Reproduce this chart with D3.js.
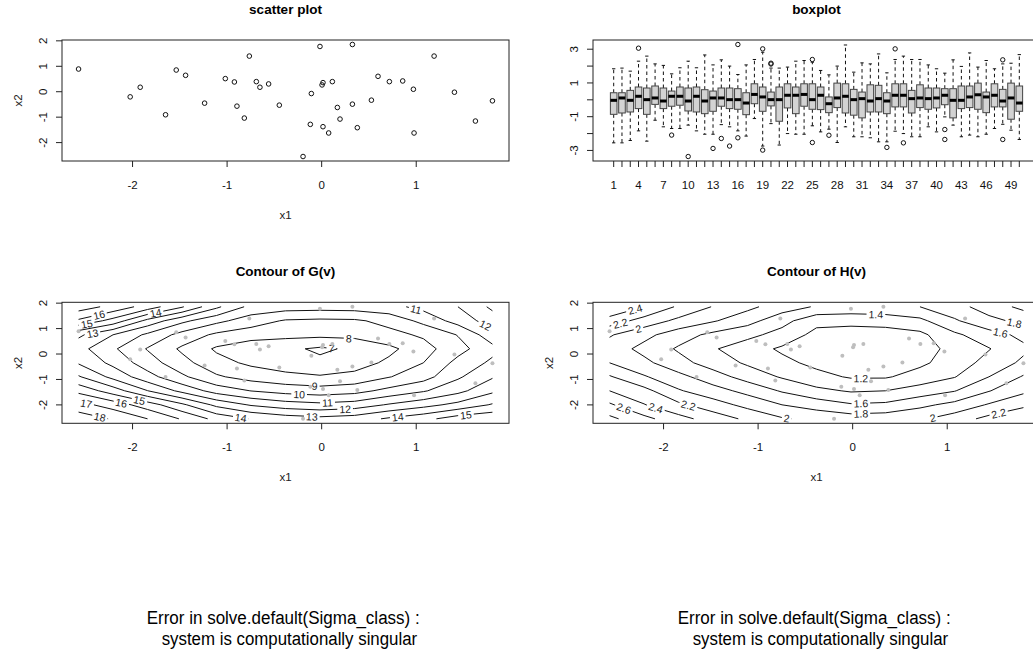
<!DOCTYPE html>
<html>
<head>
<meta charset="utf-8">
<script src="https://cdn.jsdelivr.net/npm/d3@7"></script>
<style>
  body { margin: 0; background: #fff; }
  svg { display: block; }
</style>
</head>
<body>
<svg id="fig" width="1033" height="654"></svg>
<script>
// ---- data ----
// sample points (first two variables)
const x1 = [-2.571, -2.025, -1.919, -1.651, -1.538, -1.439, -1.238, -1.019, -0.923, -0.896,
            -0.818, -0.765, -0.691, -0.653, -0.561, -0.448, -0.197, -0.120, -0.109, -0.018,
             0.004,  0.014,  0.014,  0.074,  0.113,  0.166,  0.194,  0.325,  0.325,  0.377,
             0.526,  0.596,  0.716,  0.857,  0.970,  0.977,  1.189,  1.404,  1.626,  1.806];
const x2 = [ 0.892, -0.202,  0.176, -0.906,  0.853,  0.645, -0.449,  0.515,  0.384, -0.567,
            -1.036,  1.401,  0.397,  0.176,  0.306, -0.528, -2.547, -1.283, -0.072,  1.779,
             0.267,  0.358, -1.375, -1.622,  0.397, -0.619, -1.075,  1.857, -0.489, -1.414,
            -0.332,  0.606,  0.397,  0.423,  0.097, -1.622,  1.401, -0.019, -1.153, -0.358];

// boxplot of 50 variables: whisker ends, quartiles, medians
const boxLow  = [-2.55,-2.55,-2.41,-1.84,-2.45,-1.21,-1.60,-1.70,-1.70,-1.50,
                 -1.84,-2.04,-2.04,-1.47,-1.60,-1.84,-2.15,-1.11,-2.74,-1.41,
                 -2.68,-2.00,-2.04,-2.04,-1.54,-1.90,-1.74,-2.53,-1.60,-2.19,
                 -2.19,-2.25,-2.49,-2.49,-1.86,-2.00,-2.19,-2.19,-1.60,-1.90,
                 -1.01,-1.50,-2.19,-2.09,-2.19,-2.04,-1.70,-1.45,-1.80,-2.35];
const boxQ1   = [-0.86,-0.78,-0.72,-0.52,-0.86,-0.27,-0.52,-0.38,-0.32,-0.66,
                 -0.72,-0.82,-0.68,-0.38,-0.52,-0.56,-0.88,-0.23,-0.68,-0.36,
                 -1.27,-0.48,-0.82,-0.38,-0.56,-0.58,-0.76,-0.46,-0.78,-0.91,
                 -1.07,-0.72,-0.72,-0.82,-0.42,-0.42,-0.78,-0.46,-0.56,-0.48,
                 -0.29,-1.07,-0.52,-0.46,-0.56,-0.76,-0.42,-0.42,-1.15,-0.68];
const boxMed  = [-0.03, 0.11,-0.03, 0.21, 0.01, 0.11,-0.07, 0.21, 0.21,-0.07,
                  0.21,-0.07, 0.11, 0.11, 0.01, 0.01,-0.19, 0.32, 0.17, 0.01,
                  0.01, 0.27, 0.27, 0.32, 0.01, 0.27,-0.23, 0.11, 0.21, 0.01,
                  0.07,-0.07, 0.07,-0.07, 0.27, 0.27, 0.07, 0.11, 0.07, 0.11,
                  0.27,-0.03,-0.03, 0.17, 0.30, 0.17, 0.27,-0.07, 0.11,-0.19];
const boxQ3   = [ 0.42, 0.42, 0.56, 0.76, 0.70, 0.82, 0.70, 0.52, 0.76, 0.70,
                  0.76, 0.60, 0.52, 0.70, 0.70, 0.66, 0.42, 0.95, 0.76, 0.46,
                  0.76, 0.95, 0.76, 0.95, 0.95, 0.76, 0.17, 0.99, 0.95, 0.62,
                  0.46, 0.89, 0.86, 0.42, 0.95, 0.95, 0.56, 0.89, 0.70, 0.70,
                  0.66, 0.66, 0.82, 0.82, 0.99, 0.46, 0.95, 0.62, 0.99, 0.82];
const boxHigh = [ 1.84, 1.88, 1.70, 2.29, 2.59, 2.13, 2.04, 1.54, 1.90, 2.29,
                  1.90, 2.66, 2.07, 2.37, 2.00, 1.50, 2.07, 2.39, 2.82, 1.88,
                  1.88, 1.94, 2.29, 2.33, 2.23, 1.74, 1.48, 2.00, 3.25, 1.64,
                  2.19, 2.13, 2.72, 1.60, 2.39, 2.59, 2.39, 2.39, 2.07, 1.84,
                  1.58, 2.37, 1.98, 2.78, 1.94, 2.33, 1.84, 2.13, 2.17, 2.68];
// [variable number, value]
const boxOutliers = [[4, 3.06], [8, -2.09], [10, -3.36], [13, -2.88], [14, -2.29],
                     [15, -2.74], [16, 3.28], [16, -2.25], [19, 3.02], [19, -2.98],
                     [20, 2.17], [20, 2.12], [25, 2.39], [25, -2.53], [27, -2.10],
                     [34, -2.82], [35, 3.02], [36, -2.55], [41, -1.76], [41, -2.35],
                     [48, 2.37], [48, -2.35]];

// contour surfaces, sampled on a 13 x 9 grid spanning the range of (x1, x2);
// rows run from the lowest x2 to the highest
const gGrid = [
  [18.6, 17.9, 17.0, 15.9, 14.69, 13.95, 13.52, 13.3, 13.5, 14.15, 14.7, 15.5, 15.8],
  [17.35, 16.55, 15.5, 14.2, 12.75, 11.9, 11.45, 11.25, 11.45, 12.1, 12.65, 13.3, 14.1],
  [15.7, 14.5, 13.02, 11.72, 10.58, 9.98, 9.63, 9.45, 9.65, 10.3, 10.9, 11.7, 12.8],
  [14.1, 12.71, 11.38, 10.19, 9.14, 8.59, 8.26, 8.1, 8.3, 8.95, 9.6, 10.85, 11.9],
  [12.9, 11.73, 10.48, 9.34, 8.34, 7.81, 7.5, 7.2, 7.55, 8.2, 9.0, 10.3, 11.2],
  [12.35, 11.15, 9.93, 8.83, 7.86, 7.35, 7.2, 6.85, 7.15, 7.75, 8.62, 9.64, 10.7],
  [13.2, 12.0, 10.8, 9.65, 8.8, 8.45, 8.3, 8.25, 8.3, 8.7, 9.15, 10.05, 11.6],
  [15.83, 14.63, 12.7, 11.25, 10.27, 9.49, 8.9, 8.8, 8.85, 9.3, 10.3, 11.4, 12.5],
  [17.5, 16.7, 15.55, 14.1, 12.2, 10.7, 10.45, 10.4, 10.45, 10.7, 11.3, 12.0, 13.2]
];
const hGrid = [
  [2.85, 2.66, 2.47, 2.31, 2.16, 2.02, 1.95, 1.9, 1.92, 1.97, 2.1, 2.26, 2.4],
  [2.63, 2.41, 2.24, 2.09, 1.94, 1.8, 1.71, 1.62, 1.64, 1.75, 1.86, 2.02, 2.15],
  [2.4, 2.265, 2.02, 1.88, 1.74, 1.58, 1.45, 1.38, 1.4, 1.49, 1.59, 1.79, 1.96],
  [2.22, 2.02, 1.86, 1.69, 1.52, 1.38, 1.26, 1.18, 1.18, 1.28, 1.39, 1.6, 1.82],
  [2.0, 1.85, 1.67, 1.51, 1.37, 1.25, 1.15, 1.1, 1.1, 1.16, 1.295, 1.47, 1.64],
  [1.91, 1.74, 1.575, 1.42, 1.29, 1.17, 1.1, 1.07, 1.08, 1.13, 1.25, 1.39, 1.56],
  [2.02, 1.86, 1.69, 1.55, 1.456, 1.326, 1.14, 1.12, 1.12, 1.15, 1.36, 1.52, 1.65],
  [2.31, 2.12, 1.95, 1.82, 1.675, 1.47, 1.26, 1.25, 1.27, 1.35, 1.575, 1.74, 1.86],
  [2.6, 2.4, 2.17, 1.99, 1.85, 1.70, 1.58, 1.55, 1.56, 1.6, 1.72, 1.9, 2.05]
];
const gLevels = [7, 8, 9, 10, 11, 12, 13, 14, 15, 16, 17, 18];
const hLevels = [1.2, 1.4, 1.6, 1.8, 2, 2.2, 2.4, 2.6, 2.8];

// axis ticks
const xyTicks = [-2, -1, 0, 1];
const yyTicks = [-2, -1, 0, 1, 2];
const boxYTicks = [-3, -2, -1, 0, 1, 2, 3];
const boxYLabels = [-3, -1, 1, 3];
const boxXLabels = [1, 4, 7, 10, 13, 16, 19, 22, 25, 28, 31, 34, 37, 40, 43, 46, 49];

const errLines = ['Error in solve.default(Sigma_class) :', 'system is computationally singular'];

// ---- layout ----
const FONT = '"Liberation Sans", Arial, Helvetica, sans-serif';
const svg = d3.select('#fig').style('font-family', FONT);

const panels = {
  scatter: { l: 62,  r: 509,  t: 40,    b: 161 },
  box:     { l: 593, r: 1040, t: 40,    b: 161 },
  contG:   { l: 62,  r: 509,  t: 302.3, b: 423.3 },
  contH:   { l: 593, r: 1040, t: 302.3, b: 423.3 }
};

// R pads the data range by 4% on each side
function rLim(ext) {
  const d = (ext[1] - ext[0]) * 0.04;
  return [ext[0] - d, ext[1] + d];
}

function drawFrame(g, p) {
  g.append('rect')
    .attr('x', p.l).attr('y', p.t)
    .attr('width', p.r - p.l).attr('height', p.b - p.t)
    .attr('fill', 'none').attr('stroke', '#222').attr('stroke-width', 1);
}

function drawXAxis(g, p, scale, ticks, labels) {
  ticks.forEach(v => {
    g.append('line')
      .attr('x1', scale(v)).attr('x2', scale(v))
      .attr('y1', p.b).attr('y2', p.b + 6)
      .attr('stroke', '#222');
  });
  labels.forEach(v => {
    g.append('text')
      .attr('x', scale(v)).attr('y', p.b + 28)
      .attr('text-anchor', 'middle')
      .attr('font-size', '11.5px').attr('fill', '#111')
      .text(String(v));
  });
}

function drawYAxis(g, p, scale, ticks, labels) {
  ticks.forEach(v => {
    g.append('line')
      .attr('x1', p.l).attr('x2', p.l - 6)
      .attr('y1', scale(v)).attr('y2', scale(v))
      .attr('stroke', '#222');
  });
  labels.forEach(v => {
    g.append('text')
      .attr('transform', `translate(${p.l - 14.6},${scale(v)}) rotate(-90)`)
      .attr('text-anchor', 'middle')
      .attr('font-size', '11.5px').attr('fill', '#111')
      .text(String(v));
  });
}

function drawTitles(g, p, main, xlab, ylab) {
  g.append('text')
    .attr('x', (p.l + p.r) / 2).attr('y', p.t - 26)
    .attr('text-anchor', 'middle')
    .attr('font-size', '13.5px').attr('font-weight', 'bold').attr('fill', '#000')
    .text(main);
  if (xlab) {
    g.append('text')
      .attr('x', (p.l + p.r) / 2).attr('y', p.b + 58)
      .attr('text-anchor', 'middle')
      .attr('font-size', '11.5px').attr('fill', '#222')
      .text(xlab);
  }
  if (ylab) {
    g.append('text')
      .attr('transform', `translate(${p.l - 40},${(p.t + p.b) / 2}) rotate(-90)`)
      .attr('text-anchor', 'middle')
      .attr('font-size', '11.5px').attr('fill', '#222')
      .text(ylab);
  }
}

const xlim = rLim(d3.extent(x1));
const ylim = rLim(d3.extent(x2));

// ---- 1. scatter plot ----
{
  const p = panels.scatter;
  const g = svg.append('g');
  const x = d3.scaleLinear().domain(xlim).range([p.l, p.r]);
  const y = d3.scaleLinear().domain(ylim).range([p.b, p.t]);
  g.selectAll('circle.pt').data(x1).enter().append('circle')
    .attr('cx', (d, i) => x(d)).attr('cy', (d, i) => y(x2[i]))
    .attr('r', 2.3)
    .attr('fill', 'none').attr('stroke', '#111').attr('stroke-width', 1);
  drawFrame(g, p);
  drawXAxis(g, p, x, xyTicks, xyTicks);
  drawYAxis(g, p, y, yyTicks, yyTicks);
  drawTitles(g, p, 'scatter plot', 'x1', 'x2');
}

// ---- 2. boxplot ----
{
  const p = panels.box;
  const g = svg.append('g');
  const allVals = boxLow.concat(boxHigh, boxOutliers.map(d => d[1]));
  const x = d3.scaleLinear().domain(rLim([0.5, 50.5])).range([p.l, p.r]);
  const y = d3.scaleLinear().domain(rLim(d3.extent(allVals))).range([p.b, p.t]);
  const bw = (x(1) - x(0)) * 0.8;

  boxMed.forEach((m, i) => {
    const cx = x(i + 1);
    // dashed whiskers
    [[boxQ3[i], boxHigh[i]], [boxQ1[i], boxLow[i]]].forEach(([a, b]) => {
      g.append('line')
        .attr('x1', cx).attr('x2', cx).attr('y1', y(a)).attr('y2', y(b))
        .attr('stroke', '#111').attr('stroke-dasharray', '3.5,3');
    });
    // staples
    [boxHigh[i], boxLow[i]].forEach(v => {
      g.append('line')
        .attr('x1', cx - bw / 4).attr('x2', cx + bw / 4)
        .attr('y1', y(v)).attr('y2', y(v))
        .attr('stroke', '#111');
    });
    g.append('rect')
      .attr('x', cx - bw / 2).attr('y', y(boxQ3[i]))
      .attr('width', bw).attr('height', y(boxQ1[i]) - y(boxQ3[i]))
      .attr('fill', '#d3d3d3').attr('stroke', '#444').attr('stroke-width', 1);
    g.append('line')
      .attr('x1', cx - bw / 2).attr('x2', cx + bw / 2)
      .attr('y1', y(m)).attr('y2', y(m))
      .attr('stroke', '#000').attr('stroke-width', 3);
  });
  boxOutliers.forEach(([k, v]) => {
    g.append('circle')
      .attr('cx', x(k)).attr('cy', y(v)).attr('r', 2.2)
      .attr('fill', 'none').attr('stroke', '#111');
  });
  drawFrame(g, p);
  drawXAxis(g, p, x, d3.range(1, 51), boxXLabels);
  drawYAxis(g, p, y, boxYTicks, boxYLabels);
  drawTitles(g, p, 'boxplot', null, null);
}

// ---- contour helpers ----
const measurer = svg.append('text').attr('font-size', '10.5px').attr('visibility', 'hidden');
function textWidth(s) { measurer.text(s); return measurer.node().getComputedTextLength(); }

// split d3 rings into R-style lines that stop at the outermost grid samples
function splitRing(ring, nx, ny) {
  const pts = ring.slice(0, ring.length - 1);
  const onEdge = q => q[0] <= 0 || q[0] >= nx || q[1] <= 0 || q[1] >= ny;
  const start = pts.findIndex(onEdge);
  if (start < 0) return [{ pts: ring.slice(), closed: true }];
  const out = [];
  let run = [];
  for (let k = 0; k <= pts.length; k++) {
    const q = pts[(start + k) % pts.length];
    if (onEdge(q)) {
      if (run.length > 1) out.push({ pts: run, closed: false });
      run = [];
    } else run.push(q);
  }
  if (run.length > 1) out.push({ pts: run, closed: false });
  return out;
}

function lerp(a, b, t) { return [a[0] + (b[0] - a[0]) * t, a[1] + (b[1] - a[1]) * t]; }

function cumLengths(pts) {
  const c = [0];
  for (let i = 1; i < pts.length; i++) c.push(c[i - 1] + Math.hypot(pts[i][0] - pts[i - 1][0], pts[i][1] - pts[i - 1][1]));
  return c;
}

function pointAt(pts, cum, s) {
  for (let i = 1; i < pts.length; i++) {
    if (cum[i] >= s) {
      const len = cum[i] - cum[i - 1];
      return lerp(pts[i - 1], pts[i], len ? (s - cum[i - 1]) / len : 0);
    }
  }
  return pts[pts.length - 1];
}

function cutLine(pts, cum, s0, s1) {
  const before = [pts[0]], after = [];
  for (let i = 1; i < pts.length; i++) {
    const a = pts[i - 1], b = pts[i], acc = cum[i - 1], e = cum[i], len = e - acc;
    if (acc < s0) before.push(e <= s0 ? b : lerp(a, b, (s0 - acc) / len));
    if (e > s1) {
      if (acc >= s1) after.push(b);
      else { after.push(lerp(a, b, (s1 - acc) / len)); after.push(b); }
    }
  }
  return [before, after];
}

function drawContourPanel(p, grid, levels, main, lowBias) {
  const g = svg.append('g');
  const x = d3.scaleLinear().domain(xlim).range([p.l, p.r]);
  const y = d3.scaleLinear().domain(ylim).range([p.b, p.t]);
  const ny = grid.length, nx = grid[0].length;
  const gx = d3.extent(x1), gy = d3.extent(x2);
  const toPx = c => [
    x(gx[0] + (c[0] - 0.5) * (gx[1] - gx[0]) / (nx - 1)),
    y(gy[0] + (c[1] - 0.5) * (gy[1] - gy[0]) / (ny - 1))
  ];
  const gen = d3.contours().size([nx, ny]);
  const values = grid.flat();
  const lines = [];
  levels.forEach(lv => {
    gen.contour(values, lv).coordinates.forEach(poly => poly.forEach(ring => {
      splitRing(ring, nx, ny).forEach(piece => {
        lines.push({ level: lv, pts: piece.pts.map(toPx), closed: piece.closed });
      });
    }));
  });

  const placed = [];
  const lineGen = d3.line();
  lines.forEach(ln => {
    const txt = String(ln.level);
    const w = textWidth(txt) + 4;
    const cum = cumLengths(ln.pts);
    const total = cum[cum.length - 1];
    let best = null;
    if (total > w * 1.6) {
      for (let s = w / 2; s <= total - w / 2; s += 1) {
        const a = pointAt(ln.pts, cum, s - w / 2), b = pointAt(ln.pts, cum, s + w / 2);
        const chord = Math.hypot(b[0] - a[0], b[1] - a[1]);
        let dev = w - chord;
        for (let k = 0; k < ln.pts.length; k++) {
          if (cum[k] > s - w / 2 && cum[k] < s + w / 2) {
            const q = ln.pts[k];
            const d = Math.abs((b[0] - a[0]) * (a[1] - q[1]) - (a[0] - q[0]) * (b[1] - a[1])) / (chord || 1);
            dev = Math.max(dev, d);
          }
        }
        const ang = Math.atan2(b[1] - a[1], b[0] - a[0]);
        const mid = [(a[0] + b[0]) / 2, (a[1] + b[1]) / 2];
        if (placed.some(q => Math.abs(q.mid[0] - mid[0]) < (q.w + w) / 2 + 2 && Math.abs(q.mid[1] - mid[1]) < 9)) continue;
        // flattest, most level stretch of the line
        const score = dev + 1.5 * Math.abs(Math.sin(ang)) - lowBias * (mid[1] - p.t);
        if (!best || score < best.score - 1e-6) best = { score, s, ang, mid, w };
      }
    }
    let segs = [ln.pts];
    if (best) {
      placed.push(best);
      segs = cutLine(ln.pts, cum, best.s - w / 2, best.s + w / 2);
      let deg = best.ang * 180 / Math.PI;
      if (deg > 90) deg -= 180;
      if (deg < -90) deg += 180;
      g.append('text')
        .attr('transform', `translate(${best.mid[0]},${best.mid[1]}) rotate(${deg})`)
        .attr('text-anchor', 'middle').attr('dominant-baseline', 'central')
        .attr('font-size', '10.5px').attr('fill', '#222')
        .text(txt);
    }
    segs.filter(sg => sg.length > 1).forEach(sg => {
      g.append('path').attr('d', lineGen(sg))
        .attr('fill', 'none').attr('stroke', '#111').attr('stroke-width', 1);
    });
  });

  g.selectAll('circle.pt').data(x1).enter().append('circle')
    .attr('cx', d => x(d)).attr('cy', (d, i) => y(x2[i]))
    .attr('r', 2).attr('fill', '#bebebe');
  drawFrame(g, p);
  drawXAxis(g, p, x, xyTicks, xyTicks);
  drawYAxis(g, p, y, yyTicks, yyTicks);
  drawTitles(g, p, main, 'x1', 'x2');
}

drawContourPanel(panels.contG, gGrid, gLevels, 'Contour of G(v)', 0.002);
drawContourPanel(panels.contH, hGrid, hLevels, 'Contour of H(v)', 0);

// ---- error messages printed in the empty third row ----
[0, 531].forEach(off => {
  const g = svg.append('g').attr('font-family', '"Liberation Sans Narrow", "Liberation Sans", Arial, sans-serif');
  g.append('text').attr('x', 146.7 + off).attr('y', 623.5)
    .attr('font-size', '18px').attr('fill', '#000')
    .attr('textLength', 273).attr('lengthAdjust', 'spacingAndGlyphs')
    .text(errLines[0]);
  g.append('text').attr('x', 161.7 + off).attr('y', 644.5)
    .attr('font-size', '18px').attr('fill', '#000')
    .attr('textLength', 255.5).attr('lengthAdjust', 'spacingAndGlyphs')
    .text(errLines[1]);
});
</script>
</body>
</html>
